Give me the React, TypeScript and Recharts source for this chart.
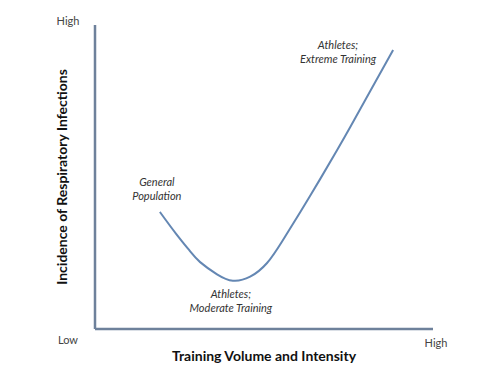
import { LineChart, Line, XAxis, YAxis, Label, ReferenceDot } from 'recharts'

// curve: training load (x) vs infection incidence (y), both on a 0-100 scale
const load = [19.2, 24, 28.1, 31.1, 36.1, 40.8, 45.9, 50.9, 55.3, 60.7, 66.6, 71.6, 75.4, 81.4, 88.2]
const incidence = [38.5, 31.3, 25.6, 22, 18, 15.9, 17.2, 21.7, 28.7, 38.4, 49.3, 58.8, 66.2, 78.2, 91.8]

const yTicks = [0, 100]
const yTickLabels = ['Low', 'High']
const xTicks = [100]
const xTickLabels = ['High']

const noteText = [
  ['General', 'Population'],
  ['Athletes;', 'Moderate Training'],
  ['Athletes;', 'Extreme Training'],
]
const noteX = [18.3, 40.2, 71.9]
const noteY = [45.7, 8.9, 90.8]

const data = load.map((x, i) => ({ x, y: incidence[i] }))

const AXIS = '#6e819b'
const LINE = '#6487b3'
const FONT = 'Lato, "Open Sans", sans-serif'

const YTick = (props: any) => {
  const { x, y, payload } = props
  const label = yTickLabels[yTicks.indexOf(payload.value)]
  const dy = payload.value === 0 ? 15 : 0
  return (
    <text x={x - 19} y={y + dy} textAnchor='middle' fill='#444' fontSize={11} fontFamily={FONT}>
      {label}
    </text>
  )
}

const XTick = (props: any) => {
  const { x, y, payload } = props
  const label = xTickLabels[xTicks.indexOf(payload.value)]
  return (
    <text x={x + 3} y={y + 10} textAnchor='middle' fill='#444' fontSize={11} fontFamily={FONT}>
      {label}
    </text>
  )
}

const Note = (lines: string[]) => (props: any) => {
  const { cx, cy } = props
  return (
    <text x={cx} y={cy} textAnchor='middle' fill='#333' fontSize={11} fontStyle='italic' fontFamily={FONT}>
      <tspan x={cx} dy={-4}>{lines[0]}</tspan>
      <tspan x={cx} dy={14}>{lines[1]}</tspan>
    </text>
  )
}

export default function App() {
  return (
    <div style={{ position: 'absolute', left: 0, top: 0, width: 502, height: 377, background: '#fff' }}>
      <LineChart
        width={502}
        height={377}
        data={data}
        margin={{ top: 25, right: 69, bottom: 0, left: 35 }}
      >
        <XAxis
          type='number'
          dataKey='x'
          domain={[0, 100]}
          ticks={xTicks}
          tick={<XTick />}
          tickLine={false}
          height={48}
          axisLine={{ stroke: AXIS, strokeWidth: 2.5 }}
        >
          <Label
            value='Training Volume and Intensity'
            position='insideBottom'
            offset={16}
            fill='#111'
            fontSize={14}
            fontWeight='bold'
            fontFamily={FONT}
          />
        </XAxis>
        <YAxis
          type='number'
          domain={[0, 100]}
          ticks={yTicks}
          tick={<YTick />}
          tickLine={false}
          width={60}
          axisLine={{ stroke: AXIS, strokeWidth: 2.5 }}
        >
          <Label
            value='Incidence of Respiratory Infections'
            angle={-90}
            position='insideLeft'
            offset={27}
            style={{ textAnchor: 'middle' }}
            fill='#111'
            fontSize={14}
            fontWeight='bold'
            fontFamily={FONT}
          />
        </YAxis>
        <Line
          type='natural'
          dataKey='y'
          stroke={LINE}
          strokeWidth={2}
          dot={false}
          isAnimationActive={false}
        />
        {noteText.map((lines, i) => (
          <ReferenceDot
            key={i}
            x={noteX[i]}
            y={noteY[i]}
            r={0}
            ifOverflow='visible'
            shape={Note(lines)}
          />
        ))}
      </LineChart>
    </div>
  )
}
